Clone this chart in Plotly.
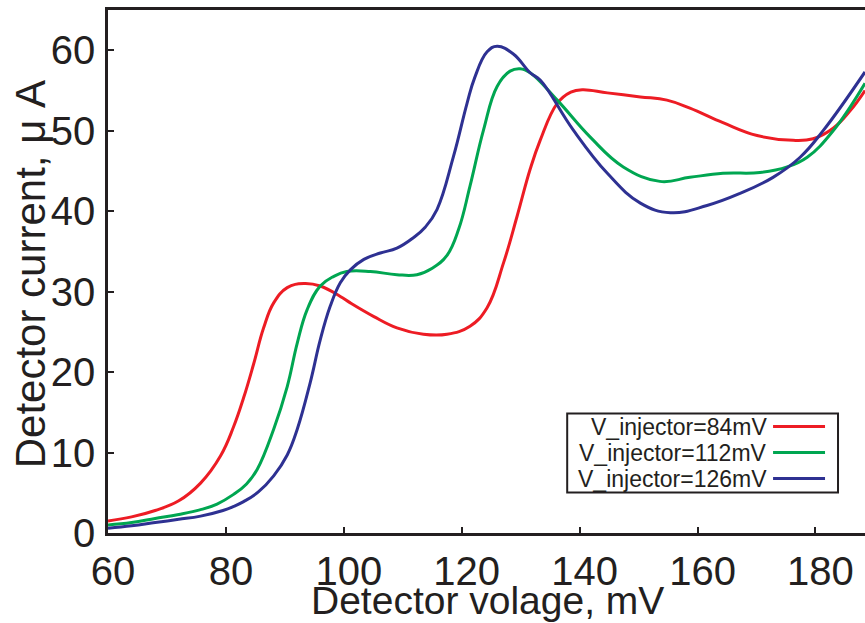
import plotly.graph_objects as go

# ---- data ----
x_red = [60, 64, 68, 72, 75.7, 79.1, 81.3, 83.0, 84.7, 86.4, 88.1, 90.4, 93.2, 96.0, 99.4,
         101.1, 105.1, 109.0, 113.5, 117.5, 121.4, 124.3, 127.1, 129.4, 131.6, 133.3, 136.2,
         138.5, 140.5, 144.7, 150.3, 154.8, 158.7, 164.3, 170.1, 176.2, 179.6, 183.0, 185.9, 188.4]
y_red = [1.5, 2.0, 2.8, 4.0, 6.2, 9.6, 13.2, 16.8, 21.0, 25.5, 28.6, 30.5, 31.0, 30.7, 29.4,
         28.6, 26.9, 25.5, 24.7, 24.7, 25.7, 28.0, 33.6, 39.4, 45.2, 48.8, 53.4,
         54.8, 55.1, 54.7, 54.2, 53.8, 52.8, 51.0, 49.4, 48.8, 49.0, 50.3, 52.5, 55.0]

x_green = [60, 64, 68, 72, 75.7, 78.5, 81.3, 83.5, 85.3, 88.1, 90.4, 92.1, 93.8, 96.0, 98.3,
           100.5, 104.5, 109.0, 112.4, 115.0, 117.5, 119.5, 121.4, 123.7, 126.0, 128.2, 129.9,
           131.6, 136.2, 141.8, 147.4, 153.6, 158.7, 164.3, 170.6, 175.2, 178.6, 183.0, 188.4]
y_green = [1.0, 1.3, 1.8, 2.3, 2.9, 3.6, 4.8, 6.1, 7.9, 12.9, 18.2, 23.6, 27.8, 30.7, 31.9,
           32.5, 32.5, 32.1, 32.1, 32.9, 34.5, 37.8, 43.1, 50.1, 55.5, 57.4, 57.7,
           57.2, 53.8, 49.2, 45.5, 43.7, 44.2, 44.7, 44.8, 45.5, 46.7, 50.0, 55.9]

x_blue = [60, 64, 68, 72, 75.7, 79.5, 81.3, 83.0, 85.5, 88.1, 90.4, 92.1, 94.3, 96.0, 97.7,
          99.4, 101.1, 103.4, 106.2, 109.0, 111.8, 113.8, 115.8, 118.6, 120.9, 122.2, 124.3,
          126.0, 128.8, 131.6, 133.3, 138.9, 144.7, 150.3, 155.4, 161.6, 167.2, 172.8, 177.4,
          181.3, 188.4]
y_blue = [0.6, 0.9, 1.3, 1.7, 2.1, 2.8, 3.3, 3.9, 5.1, 7.1, 9.7, 12.9, 18.7, 24.0, 28.2,
          31.1, 32.7, 34.0, 34.8, 35.4, 36.7, 38.0, 40.2, 46.8, 53.4, 56.6, 59.8,
          60.5, 59.5, 57.2, 56.3, 50.1, 44.7, 41.0, 39.8, 40.7, 42.2, 44.2, 46.7,
          50.0, 57.3]

series_names = ["V_injector=84mV", "V_injector=112mV", "V_injector=126mV"]
series_colors = ["#ED1C24", "#00A651", "#2E3192"]

x_ticks = [60, 80, 100, 120, 140, 160, 180]
y_ticks = [0, 10, 20, 30, 40, 50, 60]

x_title = "Detector volage, mV"
y_title = "Detector current, μ A"

INK = "#231F20"
FONT = "Liberation Sans, Arial, Helvetica, sans-serif"

fig = go.Figure()
for xs, ys, name, col in zip([x_red, x_green, x_blue], [y_red, y_green, y_blue],
                             series_names, series_colors):
    fig.add_trace(go.Scatter(x=xs, y=ys, mode="lines", name=name,
                             line=dict(color=col, width=3, shape="spline", smoothing=1.2),
                             showlegend=False))

W, H = 865, 623
L, R, T, B = 107.5, 865, 10, 533.5
def px2paper(px, py):
    return (px - L) / (R - L), (B - py) / (B - T)

# custom legend (text on the left, line sample on the right)
bx0, by0 = px2paper(567, 414)
bx1, by1 = px2paper(838, 493)
fig.add_shape(type="rect", xref="paper", yref="paper", x0=bx0, y0=by0, x1=bx1, y1=by1,
              line=dict(color=INK, width=2), fillcolor="white", layer="above")
rows_py = [427, 453, 479]
for name, col, py in zip(series_names, series_colors, rows_py):
    tx, ty = px2paper(769, py)
    lx0, _ = px2paper(773, py)
    lx1, _ = px2paper(825, py)
    fig.add_shape(type="line", xref="paper", yref="paper", x0=lx0, x1=lx1, y0=ty, y1=ty,
                  line=dict(color=col, width=3), layer="above")
    fig.add_annotation(xref="paper", yref="paper", x=tx, y=ty, text=name, showarrow=False,
                       xanchor="right", yanchor="middle",
                       font=dict(family=FONT, size=23, color=INK))

# axis titles
ax, ay = px2paper(487, 601)
fig.add_annotation(xref="paper", yref="paper", x=ax, y=ay, text=x_title, showarrow=False,
                   xanchor="center", yanchor="middle",
                   font=dict(family=FONT, size=39, color=INK))
ax, ay = px2paper(30, 275)
fig.add_annotation(xref="paper", yref="paper", x=ax, y=ay, text=y_title, showarrow=False,
                   xanchor="center", yanchor="middle", textangle=-90,
                   font=dict(family=FONT, size=42, color=INK))

fig.update_layout(
    width=W, height=H,
    margin=dict(l=L, r=0, t=T, b=H - B, pad=0),
    paper_bgcolor="white", plot_bgcolor="white",
    font=dict(family=FONT, color=INK),
)
fig.update_xaxes(
    range=[60, 188.4], tickvals=x_ticks, ticktext=[str(v) for v in x_ticks],
    showgrid=False, zeroline=False, showline=True, linecolor=INK, linewidth=2.5,
    mirror=True, ticks="inside", ticklen=6, tickwidth=2, tickcolor=INK,
    tickfont=dict(family=FONT, size=40, color=INK), ticklabelshift=5,
    ticklabelstandoff=1,
)
fig.update_yaxes(
    range=[0, 65], tickvals=y_ticks, ticktext=[str(v) for v in y_ticks],
    showgrid=False, zeroline=False, showline=True, linecolor=INK, linewidth=2.5,
    mirror=False, ticks="inside", ticklen=6, tickwidth=2, tickcolor=INK,
    tickfont=dict(family=FONT, size=40, color=INK), ticklabelstandoff=2,
)

fig.write_html("out.html")
